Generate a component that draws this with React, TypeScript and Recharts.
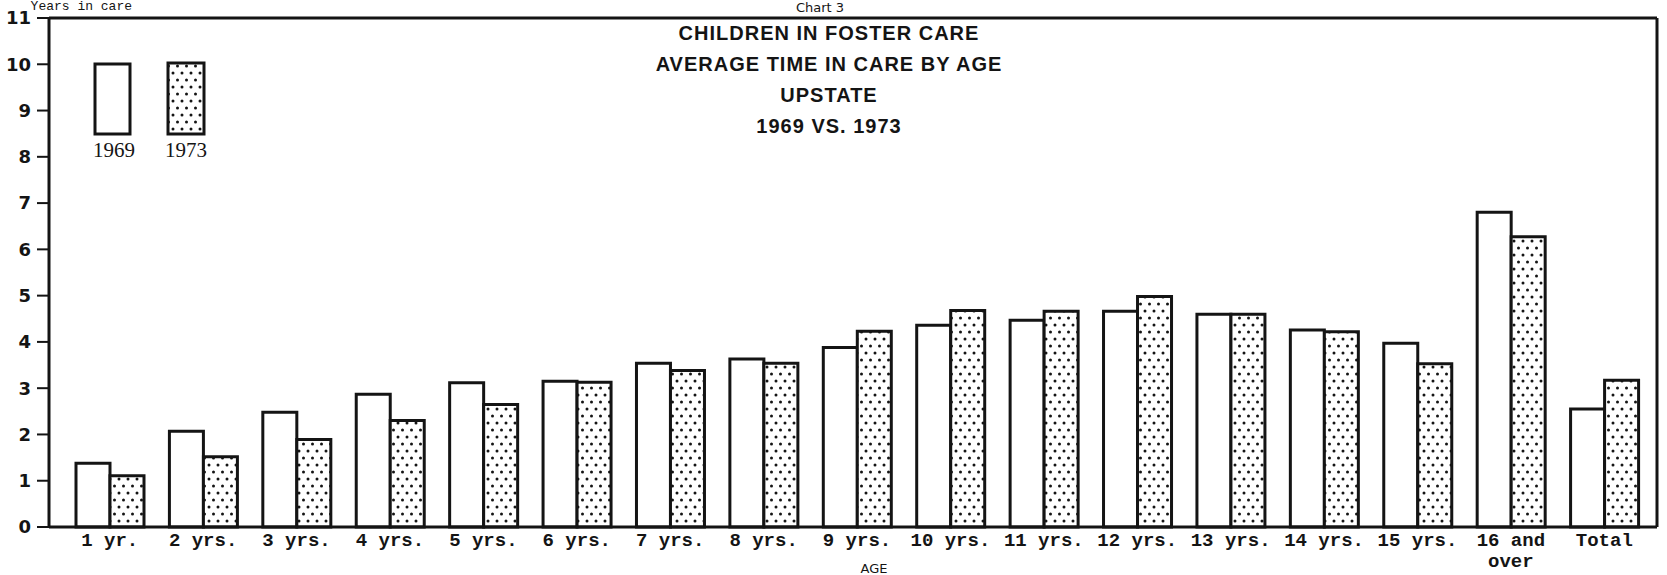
import React from 'react';
import { BarChart, Bar, XAxis, YAxis, ReferenceLine } from 'recharts';

const ageLabels = [
  '1 yr.', '2 yrs.', '3 yrs.', '4 yrs.', '5 yrs.', '6 yrs.', '7 yrs.', '8 yrs.', '9 yrs.',
  '10 yrs.', '11 yrs.', '12 yrs.', '13 yrs.', '14 yrs.', '15 yrs.', '16 and\nover', 'Total',
];
const avg1969 = [1.38, 2.07, 2.48, 2.87, 3.12, 3.15, 3.54, 3.63, 3.88, 4.36, 4.47, 4.66, 4.6, 4.26, 3.97, 6.8, 2.55];
const avg1973 = [1.11, 1.52, 1.89, 2.3, 2.65, 3.13, 3.38, 3.54, 4.23, 4.68, 4.66, 4.98, 4.6, 4.22, 3.53, 6.27, 3.17];
const yearTicks = [0, 1, 2, 3, 4, 5, 6, 7, 8, 9, 10, 11];
const titleLines = ['CHILDREN IN FOSTER CARE', 'AVERAGE TIME IN CARE BY AGE', 'UPSTATE', '1969 VS. 1973'];

const chartData = ageLabels.map((age, i) => ({ age, y1969: avg1969[i], y1973: avg1973[i] }));

const ink = '#141414';
const mono = "'Liberation Mono', 'DejaVu Sans Mono', monospace";
const sans = "'DejaVu Sans', 'Liberation Sans', sans-serif";

function AgeTick({ x, y, payload }: any) {
  const lines = String(payload.value).split('\n');
  return (
    <text x={x} y={y} textAnchor="middle" fontFamily={mono} fontWeight="bold" fontSize={19} fill={ink}>
      {lines.map((line, i) => (
        <tspan key={i} x={x} dy={i === 0 ? 11 : 21}>
          {line}
        </tspan>
      ))}
    </text>
  );
}

export default function App() {
  return (
    <div style={{ position: 'absolute', left: 0, top: 0, width: 1667, height: 575, background: '#fff' }}>
      <svg width={0} height={0} style={{ position: 'absolute' }}>
        <defs>
          <pattern id="dots" patternUnits="userSpaceOnUse" width={9} height={14}>
            <rect width={9} height={14} fill="#fff" />
            <circle cx={2} cy={3} r={1.5} fill={ink} />
            <circle cx={6.5} cy={10} r={1.5} fill={ink} />
          </pattern>
        </defs>
      </svg>

      <BarChart
        width={1667}
        height={575}
        data={chartData}
        margin={{ top: 18, right: 5, bottom: 0, left: 0 }}
        barSize={34}
        barGap={0}
      >
        <XAxis
          dataKey="age"
          interval={0}
          height={48}
          padding={{ left: 14, right: 6 }}
          axisLine={{ stroke: ink, strokeWidth: 3 }}
          tickLine={false}
          tick={<AgeTick />}
        />
        <YAxis
          width={49}
          domain={[0, 11]}
          ticks={yearTicks}
          interval={0}
          tickSize={12}
          tickMargin={6}
          axisLine={{ stroke: ink, strokeWidth: 3 }}
          tickLine={{ stroke: ink, strokeWidth: 2 }}
          tick={{ fill: ink, fontSize: 18, fontWeight: 'bold', fontFamily: sans }}
        />
        <YAxis
          yAxisId="frame"
          orientation="right"
          width={5}
          domain={[0, 11]}
          tick={false}
          tickLine={false}
          axisLine={{ stroke: ink, strokeWidth: 3 }}
        />
        <ReferenceLine y={11} stroke={ink} strokeWidth={3} />
        <Bar dataKey="y1969" fill="#fff" stroke={ink} strokeWidth={3} isAnimationActive={false} />
        <Bar dataKey="y1973" fill="url(#dots)" stroke={ink} strokeWidth={3} isAnimationActive={false} />
      </BarChart>

      <svg width={1667} height={575} style={{ position: 'absolute', left: 0, top: 0, pointerEvents: 'none' }}>
        <text x={132} y={10} textAnchor="end" fontFamily={mono} fontSize={13} fill={ink}>
          Years in care
        </text>
        <text x={820} y={12} textAnchor="middle" fontFamily={sans} fontSize={13} fill={ink}>
          Chart 3
        </text>
        {titleLines.map((line, i) => (
          <text
            key={line}
            x={829}
            y={40 + i * 31}
            textAnchor="middle"
            fontFamily="'Liberation Sans', Arial, sans-serif"
            fontWeight="bold"
            fontSize={20}
            letterSpacing={1}
            fill={ink}
          >
            {line}
          </text>
        ))}

        <rect x={95} y={64} width={35} height={70} fill="#fff" stroke={ink} strokeWidth={3} />
        <rect x={168} y={63} width={36} height={71} fill="url(#dots)" stroke={ink} strokeWidth={3} />
        <text x={114} y={157} textAnchor="middle" fontFamily="'Liberation Serif', serif" fontSize={21} fill={ink}>
          1969
        </text>
        <text x={186} y={157} textAnchor="middle" fontFamily="'Liberation Serif', serif" fontSize={21} fill={ink}>
          1973
        </text>

        <text x={874} y={573} textAnchor="middle" fontFamily={sans} fontSize={13} fill={ink}>
          AGE
        </text>
      </svg>
    </div>
  );
}
